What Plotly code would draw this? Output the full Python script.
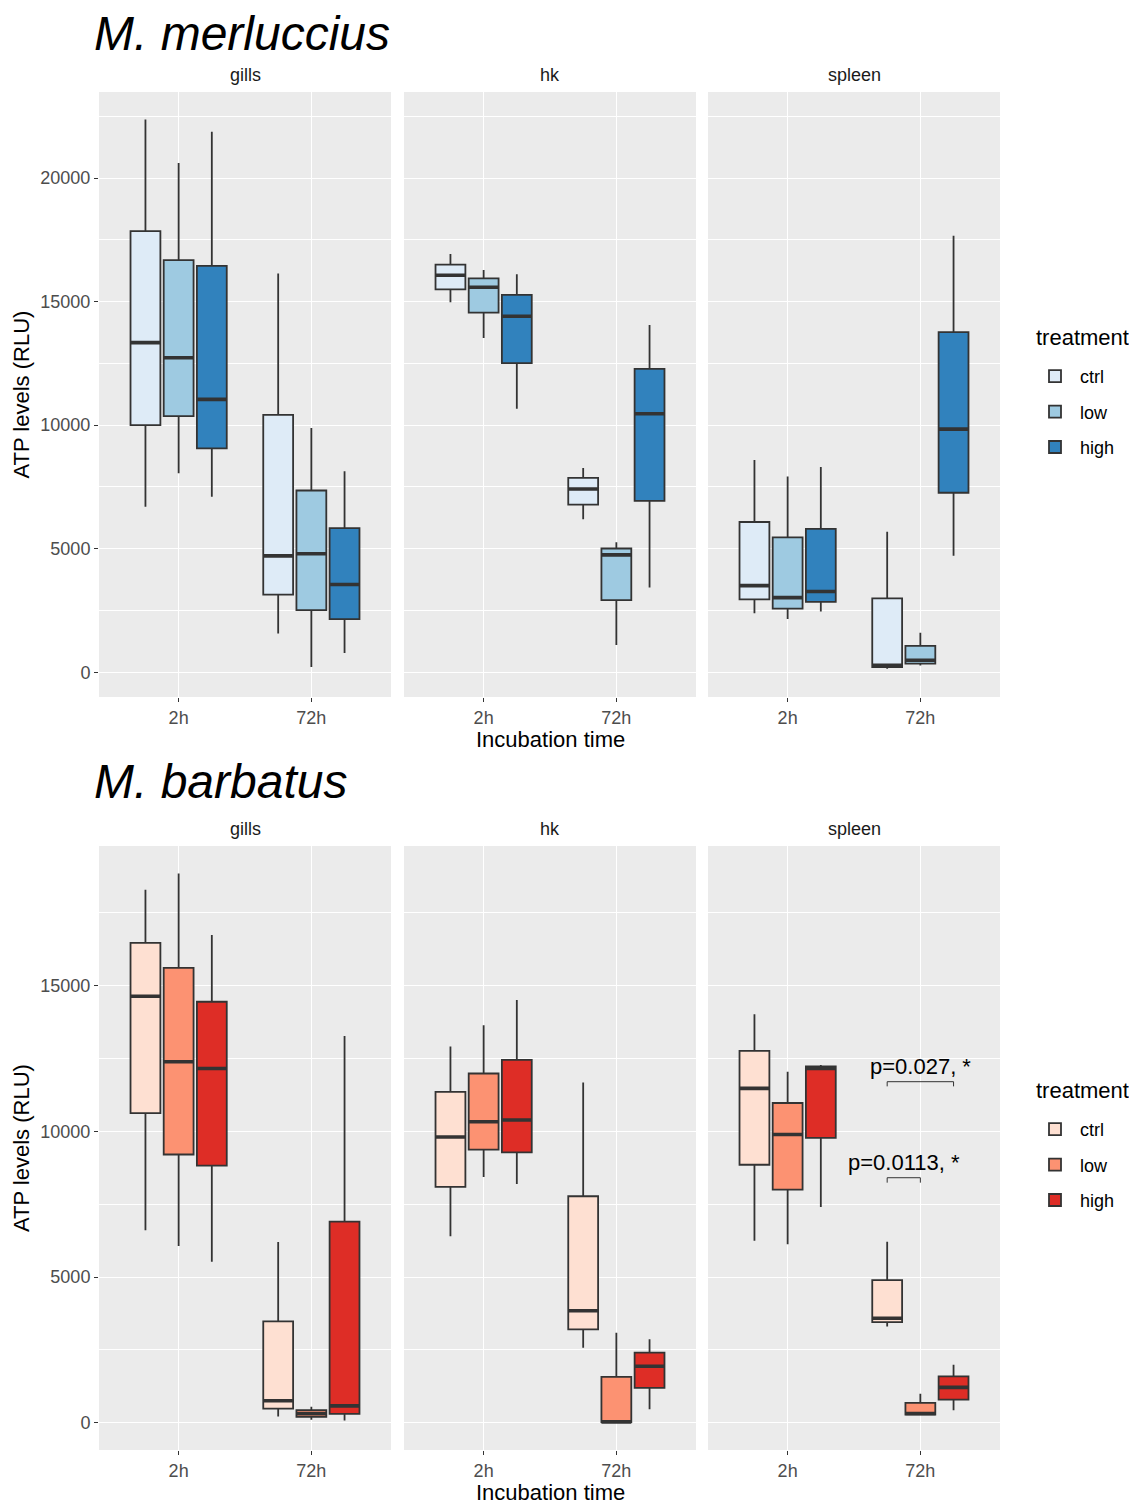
import plotly.graph_objects as go

# page has an 8px body margin: the figure is drawn offset by 8px
OFF = 8
W, H = 1137 - OFF, 1504 - OFF

tissues = ["gills", "hk", "spleen"]
treatments = ["ctrl", "low", "high"]
times = ["2h", "72h"]

# order: tissue -> treatment -> time  (18 values per species)
merl_lo  = [6700, 1570,  8050, 215,   7108, 777,
            14973, 6194, 13532, 1104, 10664, 3434,
            2394, 139,   2157, 278,   2464, 4718]
merl_q1  = [10000, 3141, 10364, 2513, 9058, 2149,
            15498, 6786, 14556, 2922, 12509, 6934,
            2951, 209,   2575, 348,   2853, 7265]
merl_med = [13340, 4711, 12728, 4794, 11042, 3554,
            16064, 7419, 15579, 4753, 14408, 10462,
            3507, 278,   3020, 487,   3271, 9840]
merl_q3  = [17850, 10414, 16679, 7356, 16447, 5835,
            16495, 7864,  15943, 5009, 15269, 12280,
            6082, 2992,   5456, 1072,  5804, 13765]
merl_hi  = [22370, 16140, 20613, 9885, 21869, 8133,
            16926, 8268,  16280, 5265, 16104, 14058,
            8587, 5692,   7919, 1601,  8309, 17662]

barb_lo  = [6608, 217,  6066, 108,  5524, 81,
            6404, 2580, 8436, 11,   8196, 468,
            6245, 3305, 6131, 251,  7407, 433]
barb_q1  = [10629, 487, 9207, 203,  8828, 311,
            8093, 3208, 9372, 23,   9280, 1199,
            8855, 3453, 8000, 285,  9778, 798]
barb_med = [14637, 758, 12389, 311, 12159, 582,
            9806, 3847, 10331, 34,  10388, 1941,
            11476, 3590, 9892, 319, 12160, 1219]
barb_q3  = [16465, 3480, 15612, 433, 14447, 6905,
            11358, 7774, 11986, 1575, 12454, 2409,
            12763, 4900, 10974, 684, 12228, 1595]
barb_hi  = [18293, 6201, 18848, 555, 16735, 13269,
            12910, 11678, 13641, 3093, 14509, 2865,
            14017, 6211, 12046, 1003, 12273, 1994]

blues = ["#DEEBF7", "#9ECAE1", "#3182BD"]
reds = ["#FEE0D2", "#FC9272", "#DE2D26"]

species_titles = ["M. merluccius", "M. barbatus"]
pvals = ["p=0.027, *", "p=0.0113, *"]

FONT = "Liberation Sans, Arial, sans-serif"
EDGE = "#333333"

fig = go.Figure()

panel_x = [(99, 391), (404, 696), (708, 1000)]
panel_y = [(92, 697), (846, 1450)]
yranges = [[-1000, 23482], [-931, 19790]]


def px_x(p):
    return (p - OFF) / W


def px_y(p):
    return 1 - (p - OFF) / H


species = [
    (merl_lo, merl_q1, merl_med, merl_q3, merl_hi, blues),
    (barb_lo, barb_q1, barb_med, barb_q3, barb_hi, reds),
]

layout_axes = {}
for s, (lo, q1, med, q3, hi, cols) in enumerate(species):
    for t, tissue in enumerate(tissues):
        k = s * 3 + t + 1
        xa = "x" if k == 1 else f"x{k}"
        ya = "y" if k == 1 else f"y{k}"
        for r, trt in enumerate(treatments):
            i0 = t * 6 + r * 2
            sl = slice(i0, i0 + 2)
            fig.add_trace(go.Box(
                x=times,
                lowerfence=lo[sl], q1=q1[sl], median=med[sl],
                q3=q3[sl], upperfence=hi[sl],
                name=trt,
                fillcolor=cols[r],
                line=dict(color=EDGE, width=1.8),
                whiskerwidth=0,
                boxpoints=False,
                xaxis=xa, yaxis=ya,
                alignmentgroup=f"panel{k}",
                offsetgroup=trt,
                legendgroup=f"{s}-{trt}",
                showlegend=(t == 0),
                legend="legend" if s == 0 else "legend2",
                hoverinfo="skip",
            ))
        # thicker median bar (ggplot fatten = 2)
        for r, trt in enumerate(treatments):
            i0 = t * 6 + r * 2
            sl = slice(i0, i0 + 2)
            fig.add_trace(go.Box(
                x=times,
                lowerfence=med[sl], q1=med[sl], median=med[sl],
                q3=med[sl], upperfence=med[sl],
                name=trt,
                fillcolor="rgba(0,0,0,0)",
                line=dict(color=EDGE, width=3.6),
                whiskerwidth=0,
                boxpoints=False,
                xaxis=xa, yaxis=ya,
                alignmentgroup=f"panel{k}",
                offsetgroup=trt,
                showlegend=False,
                hoverinfo="skip",
            ))
        xd = [px_x(panel_x[t][0]), px_x(panel_x[t][1])]
        yd = [px_y(panel_y[s][1]), px_y(panel_y[s][0])]
        xkey = "xaxis" if k == 1 else f"xaxis{k}"
        ykey = "yaxis" if k == 1 else f"yaxis{k}"
        layout_axes[xkey] = dict(
            domain=xd, anchor=ya, type="category",
            categoryorder="array", categoryarray=times,
            range=[-0.6, 1.6], showgrid=True, gridcolor="white", gridwidth=1.2,
            ticks="outside", ticklen=4, tickcolor=EDGE, tickwidth=1,
            tickfont=dict(size=18, color="#4D4D4D", family=FONT),
            showline=False, zeroline=False, fixedrange=True,
        )
        layout_axes[ykey] = dict(
            domain=yd, anchor=xa, range=yranges[s],
            tick0=0, dtick=5000, tickformat="d",
            showgrid=True, gridcolor="white", gridwidth=1.2,
            minor=dict(dtick=2500, tick0=0, showgrid=True, gridcolor="white", gridwidth=0.6),
            ticks="outside" if t == 0 else "", ticklen=4, tickcolor=EDGE, tickwidth=1,
            showticklabels=(t == 0),
            tickfont=dict(size=18, color="#4D4D4D", family=FONT),
            showline=False, zeroline=False, fixedrange=True,
        )

annotations = []
title_y = [33, 782]
legend_title_y = [337, 1090]
for s in range(2):
    annotations.append(dict(
        text=f"<i>{species_titles[s]}</i>", x=px_x(92), y=px_y(title_y[s]),
        xref="paper", yref="paper", xanchor="left", yanchor="middle",
        showarrow=False, font=dict(size=48, color="black", family=FONT)))
    for t, tissue in enumerate(tissues):
        annotations.append(dict(
            text=tissue, x=px_x((panel_x[t][0] + panel_x[t][1]) / 2),
            y=px_y(panel_y[s][0] - 17), xref="paper", yref="paper",
            xanchor="center", yanchor="middle", showarrow=False,
            font=dict(size=18, color="#1A1A1A", family=FONT)))
    annotations.append(dict(
        text="ATP levels (RLU)", x=px_x(21), y=px_y((panel_y[s][0] + panel_y[s][1]) / 2),
        xref="paper", yref="paper", xanchor="center", yanchor="middle",
        textangle=-90, showarrow=False, font=dict(size=22, color="black", family=FONT)))
    annotations.append(dict(
        text="Incubation time", x=px_x(550), y=px_y(panel_y[s][1] + 42),
        xref="paper", yref="paper", xanchor="center", yanchor="middle",
        showarrow=False, font=dict(size=22, color="black", family=FONT)))
    annotations.append(dict(
        text="treatment", x=px_x(1034), y=px_y(legend_title_y[s]),
        xref="paper", yref="paper", xanchor="left", yanchor="middle",
        showarrow=False, font=dict(size=22, color="black", family=FONT)))

# significance brackets in bottom spleen panel (72h group; dodge offsets -0.25, 0, +0.25)
br_x = [[0.75, 1.25], [0.75, 1.0]]
br_y = [11704, 8410]
br_drop = [160, 170]
shapes = []
for b in range(2):
    x0, x1 = br_x[b]
    yb = br_y[b]
    shapes.append(dict(
        type="path", xref="x6", yref="y6",
        path=f"M {x0},{yb - br_drop[b]} L {x0},{yb} L {x1},{yb} L {x1},{yb - br_drop[b]}",
        line=dict(color=EDGE, width=1)))
    annotations.append(dict(
        text=pvals[b], x=(x0 + x1) / 2, y=yb, xref="x6", yref="y6",
        xanchor="center", yanchor="bottom", yshift=1, showarrow=False,
        font=dict(size=22, color="black", family=FONT)))

legend_common = dict(
    xref="paper", yref="paper", xanchor="left", yanchor="top",
    bgcolor="rgba(0,0,0,0)", tracegroupgap=9, itemwidth=40,
    font=dict(size=18, color="black", family=FONT),
    itemclick=False, itemdoubleclick=False,
)

fig.update_layout(
    width=W, height=H,
    margin=dict(l=0, r=0, t=0, b=0),
    paper_bgcolor="white", plot_bgcolor="#EBEBEB",
    boxmode="group", boxgap=0.25, boxgroupgap=0.1,
    annotations=annotations, shapes=shapes,
    legend=dict(x=px_x(1030), y=px_y(358), **legend_common),
    legend2=dict(x=px_x(1030), y=px_y(1111), **legend_common),
    font=dict(family=FONT),
    **layout_axes,
)

fig.write_html("out.html")
